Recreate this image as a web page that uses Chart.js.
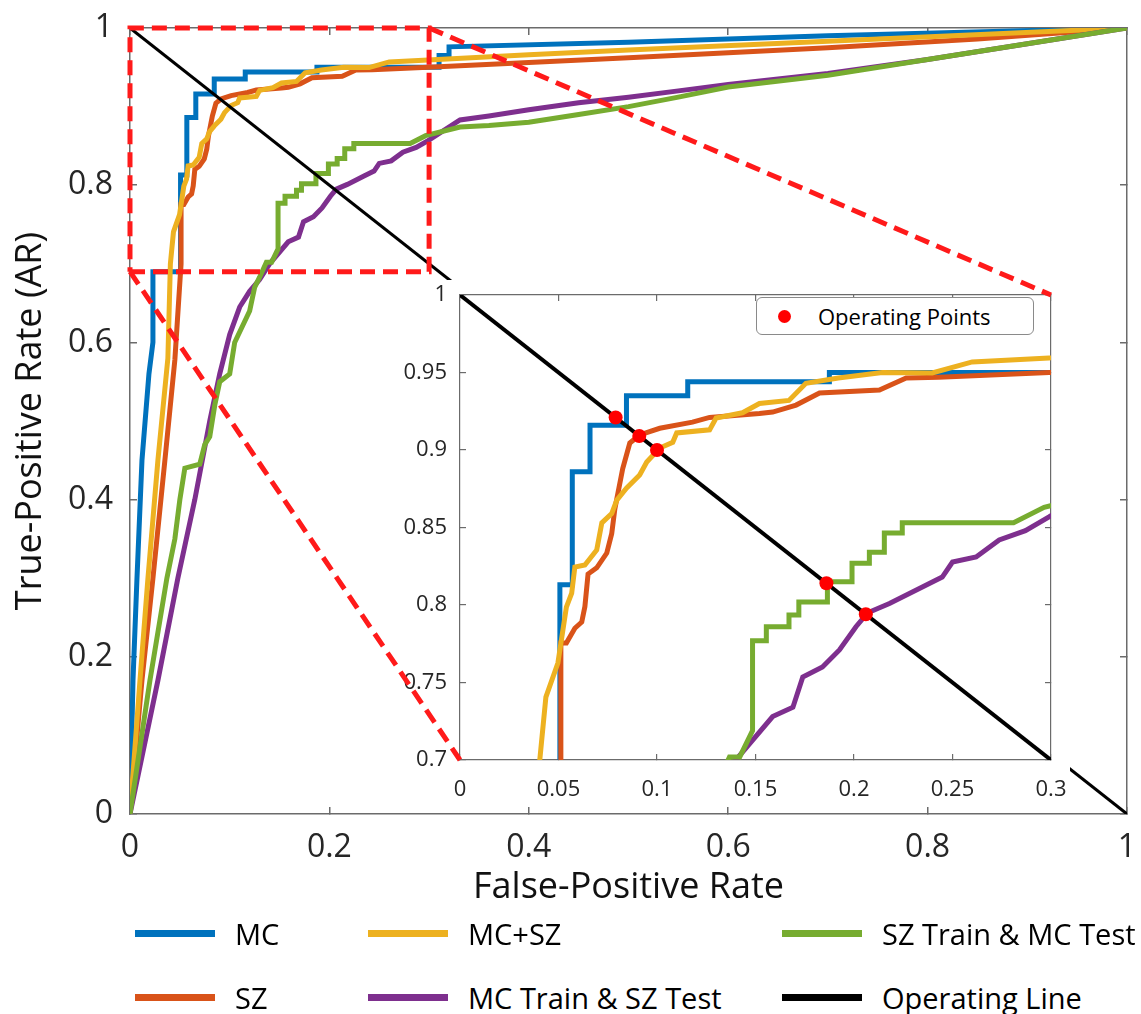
<!DOCTYPE html>
<html lang="en">
<head>
<meta charset="UTF-8">
<title>ROC curves with zoomed inset</title>
<script src="https://cdn.jsdelivr.net/npm/chart.js"></script>
<style>
    body {
        margin: 0;
        background: #fff;
        font-family: "Open Sans", sans-serif;
    }
    #wrap {
        position: relative;
        width: 1141px;
        height: 1014px;
        overflow: hidden;
    }
    canvas {
        position: absolute;
    }
    #mainChart, #overlayChart {
        left: 0;
        top: 0;
    }
    #overlayChart {
        pointer-events: none;
    }
    #insetChart {
        left: 395px;
        top: 280px;
    }
    .lg-item {
        position: absolute;
        height: 40px;
        display: flex;
        align-items: center;
        font-size: 29px;
        color: #000;
        white-space: nowrap;
    }
    .lg-line {
        width: 80px;
        height: 7px;
        margin-right: 20px;
    }
    #opLegend {
        position: absolute;
        left: 756px;
        top: 297px;
        width: 276px;
        height: 36px;
        border: 1.5px solid #8a8a8a;
        border-radius: 6px;
        background: #fff;
        display: flex;
        align-items: center;
        font-size: 22px;
        color: #000;
    }
    #opLegend .dot {
        width: 13px;
        height: 13px;
        border-radius: 50%;
        background: #ff0000;
        margin-left: 21px;
        margin-right: 27px;
    }
</style>
</head>
<body>
<div id="wrap">
    <canvas id="mainChart" width="1141" height="915"></canvas>
    <canvas id="insetChart" width="675" height="525"></canvas>
    <canvas id="overlayChart" width="1141" height="915"></canvas>
    <div id="opLegend"><span class="dot"></span><span id="opLabel"></span></div>
</div>

<script>
// ---- data ----
const seriesNames = ['MC', 'SZ', 'MC+SZ', 'MC Train & SZ Test', 'SZ Train & MC Test', 'Operating Line'];
const seriesColors = ['#0072BD', '#D95319', '#EDB120', '#7E2F8E', '#77AC30', '#000000'];

const mcX = [0, 0.003, 0.007, 0.012, 0.019, 0.023, 0.023, 0.0507, 0.0507, 0.057, 0.057, 0.066, 0.066, 0.0845, 0.0845, 0.1156, 0.1156, 0.1875, 0.1875, 0.31, 0.31, 0.32, 0.32, 0.5, 0.7, 1];
const mcY = [0, 0.17, 0.3, 0.45, 0.56, 0.6, 0.69, 0.69, 0.813, 0.813, 0.886, 0.886, 0.916, 0.916, 0.935, 0.935, 0.944, 0.944, 0.95, 0.95, 0.965, 0.965, 0.976, 0.982, 0.99, 1];

const szX = [0, 0.012, 0.023, 0.035, 0.045, 0.0512, 0.0512, 0.054, 0.0583, 0.0618, 0.0634, 0.065, 0.0694, 0.0745, 0.077, 0.0786, 0.0826, 0.0862, 0.0912, 0.1014, 0.118, 0.1267, 0.152, 0.1587, 0.1706, 0.1825, 0.2129, 0.2265, 0.243, 0.299, 0.4, 0.5, 0.7, 0.85, 1];
const szY = [0, 0.17, 0.3, 0.45, 0.578, 0.7, 0.7755, 0.7755, 0.785, 0.789, 0.799, 0.82, 0.824, 0.8335, 0.846, 0.862, 0.888, 0.9045, 0.9097, 0.914, 0.918, 0.921, 0.9236, 0.9245, 0.929, 0.9368, 0.9387, 0.9465, 0.947, 0.95, 0.956, 0.962, 0.975, 0.986, 1];

const mcszX = [0, 0.01, 0.018, 0.028, 0.038, 0.0405, 0.0436, 0.0497, 0.054, 0.0567, 0.0583, 0.0634, 0.0694, 0.072, 0.077, 0.0796, 0.0846, 0.0912, 0.0948, 0.1014, 0.108, 0.11, 0.1267, 0.13, 0.1434, 0.152, 0.167, 0.1756, 0.192, 0.2144, 0.2397, 0.26, 0.299, 0.4, 0.5, 0.7, 1];
const mcszY = [0, 0.17, 0.3, 0.45, 0.58, 0.7, 0.7406, 0.7626, 0.7987, 0.8077, 0.8245, 0.8258, 0.8355, 0.853, 0.859, 0.8677, 0.8755, 0.8839, 0.8923, 0.9013, 0.905, 0.911, 0.913, 0.9206, 0.924, 0.93, 0.932, 0.943, 0.9465, 0.95, 0.9497, 0.9568, 0.9594, 0.966, 0.972, 0.983, 1];

const mcTrainX = [0, 0.028, 0.048, 0.065, 0.08, 0.09, 0.1, 0.11, 0.12, 0.13, 0.14, 0.1587, 0.169, 0.174, 0.184, 0.1926, 0.201, 0.207, 0.218, 0.2347, 0.2448, 0.25, 0.262, 0.2737, 0.287, 0.299, 0.331, 0.36, 0.4, 0.45, 0.5, 0.55, 0.6, 0.7, 0.8, 0.9, 1];
const mcTrainY = [0, 0.17, 0.3, 0.4, 0.5, 0.56, 0.61, 0.645, 0.665, 0.68, 0.7, 0.728, 0.734, 0.7535, 0.76, 0.771, 0.786, 0.795, 0.801, 0.8116, 0.818, 0.8277, 0.831, 0.842, 0.848, 0.8568, 0.883, 0.888, 0.896, 0.905, 0.912, 0.92, 0.928, 0.942, 0.96, 0.98, 1];

const szTrainX = [0, 0.02, 0.037, 0.045, 0.05, 0.055, 0.07, 0.075, 0.08, 0.085, 0.09, 0.1, 0.105, 0.12, 0.125, 0.13, 0.1368, 0.142, 0.1485, 0.1485, 0.1555, 0.1555, 0.167, 0.167, 0.172, 0.172, 0.1865, 0.1865, 0.199, 0.199, 0.2078, 0.2078, 0.2154, 0.2154, 0.2245, 0.2245, 0.281, 0.2965, 0.331, 0.36, 0.4, 0.45, 0.5, 0.55, 0.6, 0.7, 0.8, 0.9, 1];
const szTrainY = [0, 0.17, 0.3, 0.35, 0.4, 0.44, 0.445, 0.47, 0.48, 0.52, 0.55, 0.56, 0.6, 0.64, 0.67, 0.683, 0.702, 0.702, 0.719, 0.777, 0.777, 0.786, 0.786, 0.7935, 0.7935, 0.802, 0.802, 0.815, 0.815, 0.827, 0.827, 0.834, 0.834, 0.8465, 0.8465, 0.853, 0.853, 0.863, 0.874, 0.876, 0.88, 0.89, 0.9, 0.912, 0.925, 0.94, 0.96, 0.98, 1];

const opLineX = [0, 1];
const opLineY = [1, 0];

const opPointX = [0.079, 0.091, 0.1, 0.186, 0.206];
const opPointY = [0.921, 0.909, 0.9, 0.814, 0.794];
const opPointLabel = 'Operating Points';

// zoom window shown in the inset
const zoomX = [0, 0.3];
const zoomY = [0.69, 1];
const insetXRange = [0, 0.3];
const insetYRange = [0.7, 1];

const mainTickStep = 0.2;
const insetTickStep = 0.05;

// ---- helpers ----
function pts(xs, ys) {
    return xs.map((x, i) => ({ x: x, y: ys[i] }));
}

// 0.8 not 0.80, 1 not 1.0
const fmt = v => String(parseFloat(Number(v).toFixed(2)));

// keep tick padding from pushing the plot area around
function noPad(s) {
    s.paddingLeft = 0;
    s.paddingRight = 0;
    s.paddingTop = 0;
    s.paddingBottom = 0;
}

const curveData = [pts(mcX, mcY), pts(szX, szY), pts(mcszX, mcszY), pts(mcTrainX, mcTrainY), pts(szTrainX, szTrainY), pts(opLineX, opLineY)];
const drawOrder = [5, 4, 3, 2, 1, 0]; // black on top, then green, purple, yellow, orange, blue

function makeCurves(width, blackWidth) {
    return curveData.map((d, i) => ({
        label: seriesNames[i],
        data: d,
        borderColor: seriesColors[i],
        borderWidth: i === 5 ? blackWidth : width,
        pointRadius: 0,
        fill: false,
        tension: 0,
        order: drawOrder[i]
    }));
}

const axisColor = '#6b6b6b';
const tickColor = '#262626';

const whiteBg = {
    id: 'whiteBg',
    beforeDraw(chart) {
        const ctx = chart.ctx;
        ctx.save();
        ctx.fillStyle = '#ffffff';
        ctx.fillRect(0, 0, chart.width, chart.height);
        ctx.restore();
    }
};

// matlab style: short tick marks pointing into the plot
function inGrid(len, bw) {
    return { display: true, drawOnChartArea: false, drawTicks: true, tickLength: -len, color: axisColor, lineWidth: bw };
}

function boxAxis(pos, lo, hi, step, len, bw) {
    return {
        type: 'linear', position: pos, min: lo, max: hi,
        ticks: { display: false, stepSize: step },
        grid: inGrid(len, bw),
        border: { display: true, color: axisColor, width: bw },
        afterFit(s) {
            if (pos === 'top') s.height = 0; else s.width = 0;
            noPad(s);
        }
    };
}

// ---- main chart ----
const mainChart = new Chart(document.getElementById('mainChart'), {
    type: 'line',
    data: { datasets: makeCurves(5, 3) },
    options: {
        responsive: false,
        animation: false,
        devicePixelRatio: 1,
        layout: { padding: { top: 28, right: 14, left: 0, bottom: 0 } },
        plugins: { legend: { display: false }, tooltip: { enabled: false } },
        scales: {
            x: {
                type: 'linear', min: 0, max: 1,
                ticks: { stepSize: mainTickStep, padding: 22, color: tickColor, font: { family: 'Open Sans', size: 32 }, callback: fmt },
                grid: inGrid(7, 1.5),
                border: { display: true, color: axisColor, width: 1.5 },
                title: { display: true, text: 'False-Positive Rate', color: '#111', font: { family: 'Open Sans', size: 36 }, padding: { top: 0, bottom: 6 } },
                afterFit(s) { s.height = 101; noPad(s); }
            },
            y: {
                type: 'linear', min: 0, max: 1,
                ticks: { stepSize: mainTickStep, padding: 24, color: tickColor, font: { family: 'Open Sans', size: 32 }, callback: fmt },
                grid: inGrid(7, 1.5),
                border: { display: true, color: axisColor, width: 1.5 },
                title: { display: true, text: 'True-Positive Rate (AR)', color: '#111', font: { family: 'Open Sans', size: 36 }, padding: { top: 9, bottom: 0 } },
                afterFit(s) { s.width = 130; noPad(s); }
            },
            x2: boxAxis('top', 0, 1, mainTickStep, 7, 1.5),
            y2: boxAxis('right', 0, 1, mainTickStep, 7, 1.5)
        }
    }
});

// ---- inset chart ----
const insetEl = document.getElementById('insetChart');
const insetSets = makeCurves(5, 4);
insetSets.push({
    label: opPointLabel,
    data: pts(opPointX, opPointY),
    showLine: false,
    pointRadius: 7,
    pointBackgroundColor: '#ff0000',
    pointBorderWidth: 0,
    order: -1
});

const insetChart = new Chart(insetEl, {
    type: 'line',
    data: { datasets: insetSets },
    plugins: [whiteBg],
    options: {
        responsive: false,
        animation: false,
        devicePixelRatio: 1,
        layout: { padding: { top: 15, right: 19, left: 0, bottom: 0 } },
        plugins: { legend: { display: false }, tooltip: { enabled: false } },
        scales: {
            x: {
                type: 'linear', min: insetXRange[0], max: insetXRange[1],
                ticks: { stepSize: insetTickStep, padding: 23, color: tickColor, font: { family: 'Open Sans', size: 22 }, callback: fmt },
                grid: inGrid(6, 1.2),
                border: { display: true, color: axisColor, width: 1.2 },
                afterFit(s) { s.height = 45; noPad(s); }
            },
            y: {
                type: 'linear', min: insetYRange[0], max: insetYRange[1],
                ticks: { stepSize: insetTickStep, padding: 19, color: tickColor, font: { family: 'Open Sans', size: 22 }, callback: fmt },
                grid: inGrid(6, 1.2),
                border: { display: true, color: axisColor, width: 1.2 },
                afterFit(s) { s.width = 65; noPad(s); }
            },
            x2: boxAxis('top', insetXRange[0], insetXRange[1], insetTickStep, 6, 1.2),
            y2: boxAxis('right', insetYRange[0], insetYRange[1], insetTickStep, 6, 1.2)
        }
    }
});

document.getElementById('opLabel').textContent = opPointLabel;

// ---- overlay: zoom box and connector lines, in main-chart units ----
const ia = insetChart.chartArea;
const sx = mainChart.scales.x;
const sy = mainChart.scales.y;
const inLeft = sx.getValueForPixel(insetEl.offsetLeft + ia.left);
const inRight = sx.getValueForPixel(insetEl.offsetLeft + ia.right);
const inBottom = sy.getValueForPixel(insetEl.offsetTop + ia.bottom);
const inTop = sy.getValueForPixel(insetEl.offsetTop + ia.top);

const dashed = { borderColor: '#ff1a1a', borderWidth: 5, borderDash: [15, 8], pointRadius: 0, fill: false, clip: false, tension: 0 };

new Chart(document.getElementById('overlayChart'), {
    type: 'line',
    data: {
        datasets: [
            Object.assign({ label: 'zoom box', data: pts([zoomX[0], zoomX[1], zoomX[1], zoomX[0], zoomX[0]], [zoomY[0], zoomY[0], zoomY[1], zoomY[1], zoomY[0]]) }, dashed),
            Object.assign({ label: 'link low', data: [{ x: zoomX[0], y: zoomY[0] }, { x: inLeft, y: inBottom }] }, dashed),
            Object.assign({ label: 'link high', data: [{ x: zoomX[1], y: zoomY[1] }, { x: inRight, y: inTop }] }, dashed)
        ]
    },
    options: {
        responsive: false,
        animation: false,
        devicePixelRatio: 1,
        events: [],
        layout: { padding: { left: 130, top: 28, right: 14, bottom: 101 } },
        plugins: { legend: { display: false }, tooltip: { enabled: false } },
        scales: {
            x: { type: 'linear', min: 0, max: 1, display: false },
            y: { type: 'linear', min: 0, max: 1, display: false }
        }
    }
});

// ---- legend below the plot (3 columns x 2 rows) ----
const legendCols = [135, 368, 782];
const legendRows = [913, 977];
const wrap = document.getElementById('wrap');
seriesNames.forEach((name, i) => {
    const item = document.createElement('div');
    item.className = 'lg-item';
    item.style.left = legendCols[Math.floor(i / 2)] + 'px';
    item.style.top = legendRows[i % 2] + 'px';
    const sw = document.createElement('span');
    sw.className = 'lg-line';
    sw.style.background = seriesColors[i];
    const tx = document.createElement('span');
    tx.textContent = name;
    item.appendChild(sw);
    item.appendChild(tx);
    wrap.appendChild(item);
});
</script>
</body>
</html>
